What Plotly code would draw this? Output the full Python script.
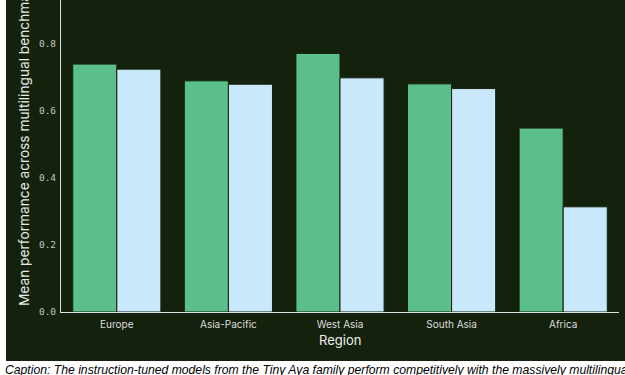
import plotly.graph_objects as go

regions = ["Europe", "Asia-Pacific", "West Asia", "South Asia", "Africa"]
series_a_name = "Tiny Aya"
series_a = [0.740, 0.690, 0.772, 0.681, 0.549]
series_b_name = "Baseline"
series_b = [0.725, 0.680, 0.699, 0.667, 0.314]
y_ticks = [0.0, 0.2, 0.4, 0.6, 0.8]
y_title = "Mean performance across multilingual benchmarks"
x_title = "Region"
caption = ("Caption: The instruction-tuned models from the Tiny Aya family perform "
           "competitively with the massively multilingual Aya Expanse models across regions.")

W, H = 625, 375
L, R, T, B = 61, 6, 0, 63
pw, ph = W - L - R, H - T - B
DARK = "#14210c"

def px_x(x):
    return (x - L) / pw

def px_y(y):
    return (H - B - y) / ph

fig = go.Figure()
fig.add_bar(x=regions, y=series_a, name=series_a_name,
            marker=dict(color="#5bbf8a", line=dict(color=DARK, width=1)))
fig.add_bar(x=regions, y=series_b, name=series_b_name,
            marker=dict(color="#c9e8fc", line=dict(color=DARK, width=1)))

fig.update_layout(
    width=W, height=H,
    margin=dict(l=L, r=R, t=T, b=B, pad=0),
    paper_bgcolor="white",
    plot_bgcolor=DARK,
    barmode="group", bargap=0.21, bargroupgap=0.0,
    showlegend=False,
    shapes=[dict(type="rect", xref="paper", yref="paper", layer="below",
                 x0=px_x(6), x1=px_x(W + 5), y0=px_y(361), y1=px_y(-5),
                 fillcolor=DARK, line=dict(width=0))],
    annotations=[
        dict(text=y_title, xref="paper", yref="paper", x=px_x(24), y=px_y(308),
             xanchor="center", yanchor="bottom", textangle=-90, showarrow=False,
             font=dict(family="Inter", size=13.7, color="#e8e8e8")),
        dict(text=x_title, xref="paper", yref="paper", x=px_x(340), y=px_y(340),
             xanchor="center", yanchor="middle", showarrow=False,
             font=dict(family="Inter", size=13, color="#f0f0f0")),
        dict(text="<i>" + caption + "</i>", xref="paper", yref="paper", x=px_x(3), y=px_y(370),
             xanchor="left", yanchor="middle", showarrow=False,
             font=dict(family="Liberation Sans", size=12.2, color="black")),
    ],
)
fig.update_xaxes(showline=True, linecolor="#e0e0e0", linewidth=1, ticks="",
                 showgrid=False, tickfont=dict(family="Inter", size=10, color="#dddddd"),
                 ticklabelstandoff=3)
fig.update_yaxes(range=[0, (H - B) / 335], showline=True, linecolor="#e0e0e0", linewidth=1,
                 showgrid=False, zeroline=False, tickvals=y_ticks,
                 ticktext=[f"{v:.1f}" for v in y_ticks], ticks="",
                 tickfont=dict(family="DejaVu Sans Mono", size=9.5, color="#c4c4c4"),
                 ticklabelstandoff=2)
fig.write_html("out.html", config={"displayModeBar": False},
               post_script="document.body.style.margin='0';document.body.style.overflow='hidden';")
